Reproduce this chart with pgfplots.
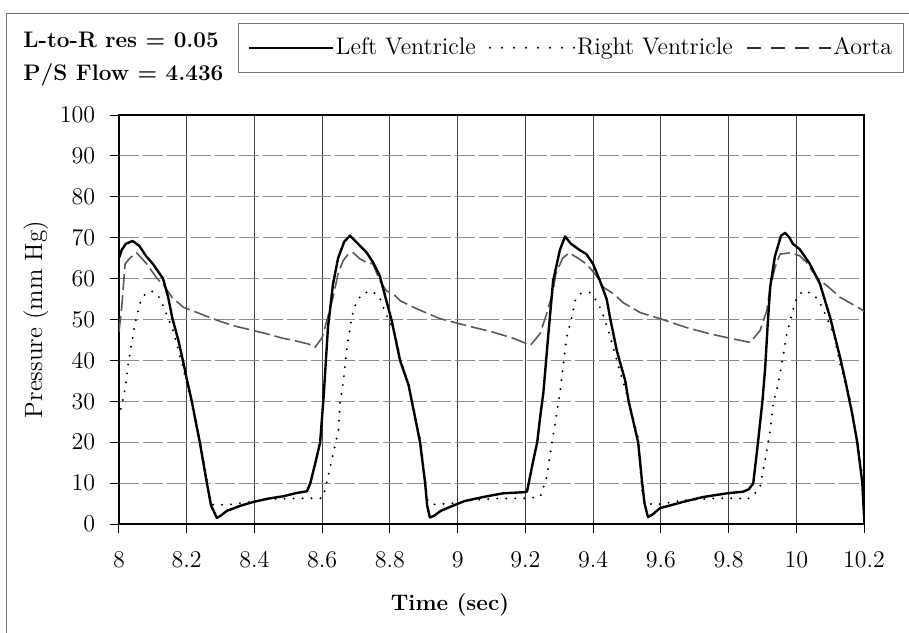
\documentclass[border=0pt]{standalone}
\usepackage{pgfplots}
\pgfplotsset{compat=1.18}
\newcommand{\fs}{\fontsize{11.25}{13.5}\selectfont}
\newcommand{\fl}{\fontsize{12}{14}\selectfont}
\begin{document}
\fs
\begin{tikzpicture}
\useasboundingbox (0,0) rectangle (454.5pt,-316pt);
\begin{scope}[x=0.5pt,y=-0.5pt]
\draw[black!55, line width=0.5pt] (6,700) -- (6,13) -- (1000,13);
\node[anchor=base west, inner sep=0pt, font=\fs\bfseries] at (23,47) {L-to-R res = 0.05};
\node[anchor=base west, inner sep=0pt, font=\fs\bfseries] at (23,80) {P/S Flow = 4.436};
\end{scope}
\begin{axis}[
 at={(59.5pt,-262pt)}, anchor=south west,
 width=372.5pt, height=204.5pt, scale only axis,
 xmin=8, xmax=10.2, ymin=0, ymax=100,
 xtick={8,8.2,8.4,8.6,8.8,9,9.2,9.4,9.6,9.8,10,10.2},
 ytick={0,10,20,30,40,50,60,70,80,90,100},
 xtick pos=bottom, ytick pos=left,
 tick align=outside, major tick length=4.5pt,
 tick style={black, line width=0.5pt},
 grid=major,
 x grid style={black!75, line width=0.5pt},
 y grid style={black!45, line width=0.5pt, dash pattern=on 10pt off 2pt},
 axis line style={black, line width=0.9pt},
 ticklabel style={font=\fontsize{11.5}{13.5}\selectfont},
 xticklabel style={yshift=-5.5pt},
 yticklabel style={xshift=-3.5pt},
 xlabel={\textbf{Time (sec)}},
 ylabel={Pressure (mm Hg)},
 xlabel style={font=\fs, at={(axis description cs:0.4443,-0.197)}, anchor=center},
 ylabel style={font=\fontsize{12.5}{15}\selectfont, at={(axis description cs:-0.1114,0.5)}, anchor=center},
 legend columns=3,
 legend image code/.code={\draw[#1] (0pt,0pt) -- (42pt,0pt);},
 legend style={at={(axis description cs:0.1597,1.2249)}, anchor=north west,
   draw=black!55, line width=0.5pt, inner xsep=4.5pt, inner ysep=6pt, font=\fl,
   nodes={inner xsep=1pt, inner ysep=1pt},
   /tikz/every even column/.append style={column sep=5.5pt}},
 legend cell align=left,
]
\addlegendimage{black, line width=1.2pt}
\addlegendentry{Left Ventricle}
\addlegendimage{black, line width=1.1pt, line cap=round, dash pattern=on 0pt off 6pt}
\addlegendentry{Right Ventricle}
\addlegendimage{black!80, line width=0.8pt, dash pattern=on 7pt off 5pt}
\addlegendentry{Aorta}

% Aorta
\addplot[forget plot, black!65, line width=0.8pt, dash pattern=on 8pt off 2.5pt] coordinates {
(8.000,47) (8.008,53) (8.018,63.6) (8.032,65) (8.052,66.3) (8.082,63.6) (8.110,60.3) (8.136,57.9) (8.157,55.4) (8.190,53) (8.240,51.4) (8.290,49.8) (8.337,48.5) (8.397,47.3) (8.436,46.5) (8.485,45.4) (8.515,44.9) (8.560,44) (8.579,43.2)
(8.600,45.6) (8.614,49.8) (8.632,55.4) (8.647,61.2) (8.662,64.4) (8.677,66) (8.692,66.3) (8.712,64.8) (8.730,64) (8.750,63.6) (8.770,59.5) (8.790,57) (8.810,56.3) (8.830,54.6) (8.880,52.6) (8.948,50.2) (9.027,48.5) (9.105,46.9) (9.165,45.4) (9.215,43.7)
(9.243,46.5) (9.263,51.4) (9.282,57) (9.290,61.2) (9.310,65) (9.330,66.3) (9.355,65) (9.380,63.6) (9.410,60.7) (9.430,57.9) (9.460,56.3) (9.489,54.1) (9.539,51.7) (9.598,50.2) (9.677,48) (9.745,46.5) (9.805,45.4) (9.864,44.4)
(9.893,47.3) (9.913,52.2) (9.923,57.8) (9.937,62.7) (9.952,66) (9.982,66.3) (10.010,65.6) (10.030,64) (10.050,61.5) (10.070,59.5) (10.090,58.3) (10.130,55.4) (10.190,52.6) (10.200,52)
};
% Right Ventricle
\addplot[forget plot, black, line width=1.1pt, line cap=round, dash pattern=on 0pt off 4.5pt] coordinates {
(8.000,26) (8.018,33) (8.027,39) (8.042,46.5) (8.047,49) (8.062,54) (8.075,56) (8.095,57) (8.115,56) (8.130,53.4) (8.160,47.3) (8.190,38) (8.210,31) (8.240,20) (8.260,10.5) (8.268,5.5) (8.280,4.6) (8.330,4.8) (8.397,5.5) (8.440,6.1) (8.500,6.2) (8.570,6.3) (8.600,6.3)
(8.608,8.3) (8.617,11.5) (8.632,17) (8.648,23) (8.653,30) (8.663,35) (8.672,42.4) (8.687,50.5) (8.697,53.4) (8.717,56.3) (8.747,57) (8.770,55.4) (8.785,52) (8.815,46.5) (8.830,40.7) (8.855,34) (8.889,21) (8.904,11) (8.912,5.5) (8.930,4.8) (8.980,5.0) (9.040,5.8) (9.100,6.2) (9.200,6.3) (9.244,6.6)
(9.263,11.5) (9.273,17) (9.288,24.6) (9.294,28) (9.302,32) (9.312,39) (9.322,45.6) (9.337,50.5) (9.347,54.6) (9.362,56.3) (9.390,56.6) (9.410,54.6) (9.425,52.2) (9.450,46) (9.470,40) (9.495,33) (9.533,21) (9.545,8) (9.550,5.8) (9.578,4.6) (9.666,5.8) (9.765,6.3) (9.833,6.3) (9.850,5.8) (9.873,7)
(9.893,9) (9.908,15.6) (9.923,23) (9.932,29.5) (9.943,33) (9.957,39) (9.972,46.5) (9.987,51.4) (10.002,55.4) (10.020,57) (10.050,56.3) (10.070,54) (10.090,50.5) (10.110,46.5) (10.130,39) (10.160,30) (10.180,20) (10.200,9.5)
};
% Left Ventricle
\addplot[forget plot, black, line width=1.2pt, line join=round] coordinates {
(8.000,65) (8.008,67) (8.020,68.5) (8.040,69.2) (8.060,68) (8.080,65.5) (8.100,63.6) (8.130,60) (8.145,55.5) (8.157,50.5) (8.175,45) (8.190,39.5) (8.200,35.5) (8.215,30) (8.239,19.8) (8.260,9.8) (8.272,4.5) (8.289,1.5) (8.300,2.0) (8.318,3.2) (8.360,4.5) (8.397,5.4) (8.440,6.2) (8.486,6.8) (8.525,7.6) (8.555,8.0)
(8.565,10) (8.580,15) (8.594,20) (8.605,32) (8.617,48) (8.632,58.7) (8.647,65) (8.665,69) (8.682,70.5) (8.700,69) (8.731,66.4) (8.750,64) (8.770,60.7) (8.785,56) (8.805,49.8) (8.830,40) (8.855,34) (8.889,20) (8.904,10) (8.910,4.5) (8.918,1.6) (8.930,2.0) (8.950,3.2) (8.978,4.2) (9.020,5.6) (9.075,6.6) (9.134,7.5) (9.200,7.8) (9.205,8.0)
(9.210,10) (9.222,15) (9.235,20) (9.245,27) (9.253,32) (9.268,46.5) (9.282,59.5) (9.302,67) (9.317,70.3) (9.335,68.5) (9.360,67) (9.380,66) (9.400,63.6) (9.420,59.5) (9.440,55) (9.450,50.5) (9.470,42.4) (9.495,35) (9.505,30) (9.533,20) (9.545,10) (9.552,5) (9.562,1.7) (9.575,2.3) (9.598,3.9) (9.666,5.4) (9.725,6.6) (9.795,7.5) (9.843,7.9)
(9.860,8.5) (9.873,10) (9.887,20) (9.900,30) (9.908,38) (9.915,48) (9.923,58) (9.937,65.5) (9.955,70.5) (9.967,71.2) (9.980,70) (9.990,68.5) (10.010,67.2) (10.040,63.6) (10.070,58.7) (10.100,50.5) (10.130,40.5) (10.145,35) (10.165,27) (10.180,20) (10.195,10) (10.200,2)
};
\end{axis}
\end{tikzpicture}
\end{document}
